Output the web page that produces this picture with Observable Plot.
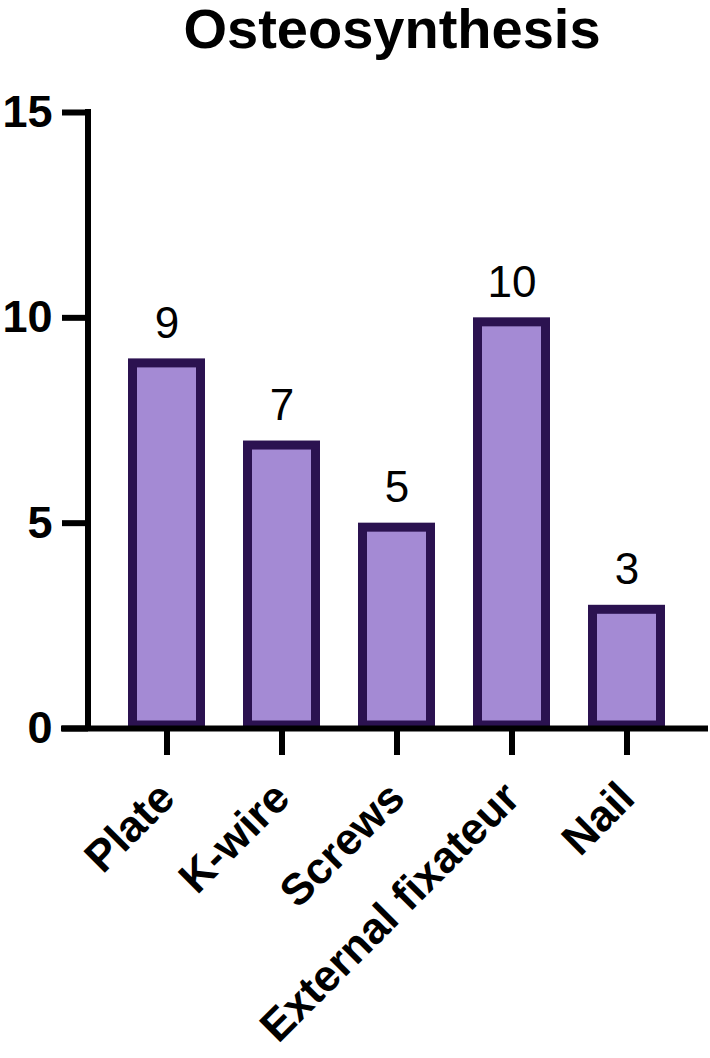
<!DOCTYPE html>
<html>
<head>
<meta charset="utf-8">
<script src="https://cdn.jsdelivr.net/npm/d3@7"></script>
<script src="https://cdn.jsdelivr.net/npm/@observablehq/plot@0.6"></script>
<style>
  html, body { margin: 0; padding: 0; background: #fff; }
</style>
</head>
<body>
<div id="chart"></div>
<script>
const title = "Osteosynthesis";
const categories = ["Plate", "K-wire", "Screws", "External fixateur", "Nail"];
const counts = [9, 7, 5, 10, 3];
const yTicks = [0, 5, 10, 15];

const data = categories.map((name, i) => ({name, value: counts[i]}));
const font = "'Liberation Sans', Arial, Helvetica, sans-serif";
const fillColor = "#A48AD4";
const strokeColor = "#2B1250";

const yAxisLine = (index, scales, values, dims) => {
  const g = d3.create("svg:g");
  g.append("line")
    .attr("x1", dims.marginLeft).attr("x2", dims.marginLeft)
    .attr("y1", scales.y(d3.max(yTicks)) - 3)
    .attr("y2", scales.y(0))
    .attr("stroke", "#000").attr("stroke-width", 6);
  return g.node();
};

const chart = Plot.plot({
  width: 710,
  height: 1058,
  marginTop: 112,
  marginBottom: 330,
  marginLeft: 88,
  marginRight: 5,
  style: {fontFamily: font, background: "#fff", color: "#000"},
  x: {domain: categories, padding: 0.33},
  y: {domain: [0, 15]},
  marks: [
    Plot.barY(data, {
      x: "name", y: "value",
      fill: fillColor, stroke: strokeColor, strokeWidth: 9,
      insetLeft: 4.5, insetRight: 4.5, insetTop: 4.5, insetBottom: 3
    }),
    Plot.ruleY([0], {stroke: "#000", strokeWidth: 6, insetLeft: -27, insetRight: -3}),
    yAxisLine,
    Plot.axisY({
      ticks: yTicks, tickSize: 26, tickPadding: 10, strokeWidth: 6,
      fontSize: 45, fontWeight: "bold", label: null, tickFormat: d => String(d)
    }),
    Plot.axisX({tickSize: 27, strokeWidth: 6, tickFormat: () => "", label: null}),
    Plot.text(data, {
      x: "name", y: "value", text: d => String(d.value),
      lineAnchor: "bottom", dy: -21, fontSize: 44, fill: "#000"
    }),
    Plot.text(categories, {
      x: d => d, text: d => d, frameAnchor: "bottom",
      rotate: -45, textAnchor: "end", lineAnchor: "bottom",
      dx: 10, dy: 72, fontSize: 44, fontWeight: "bold", fill: "#000"
    }),
    Plot.text([title], {
      text: d => d, frameAnchor: "top", lineAnchor: "bottom",
      dx: -5, dy: -65, fontSize: 56, fontWeight: "bold", fill: "#000"
    })
  ]
});
document.getElementById("chart").appendChild(chart);
</script>
</body>
</html>
